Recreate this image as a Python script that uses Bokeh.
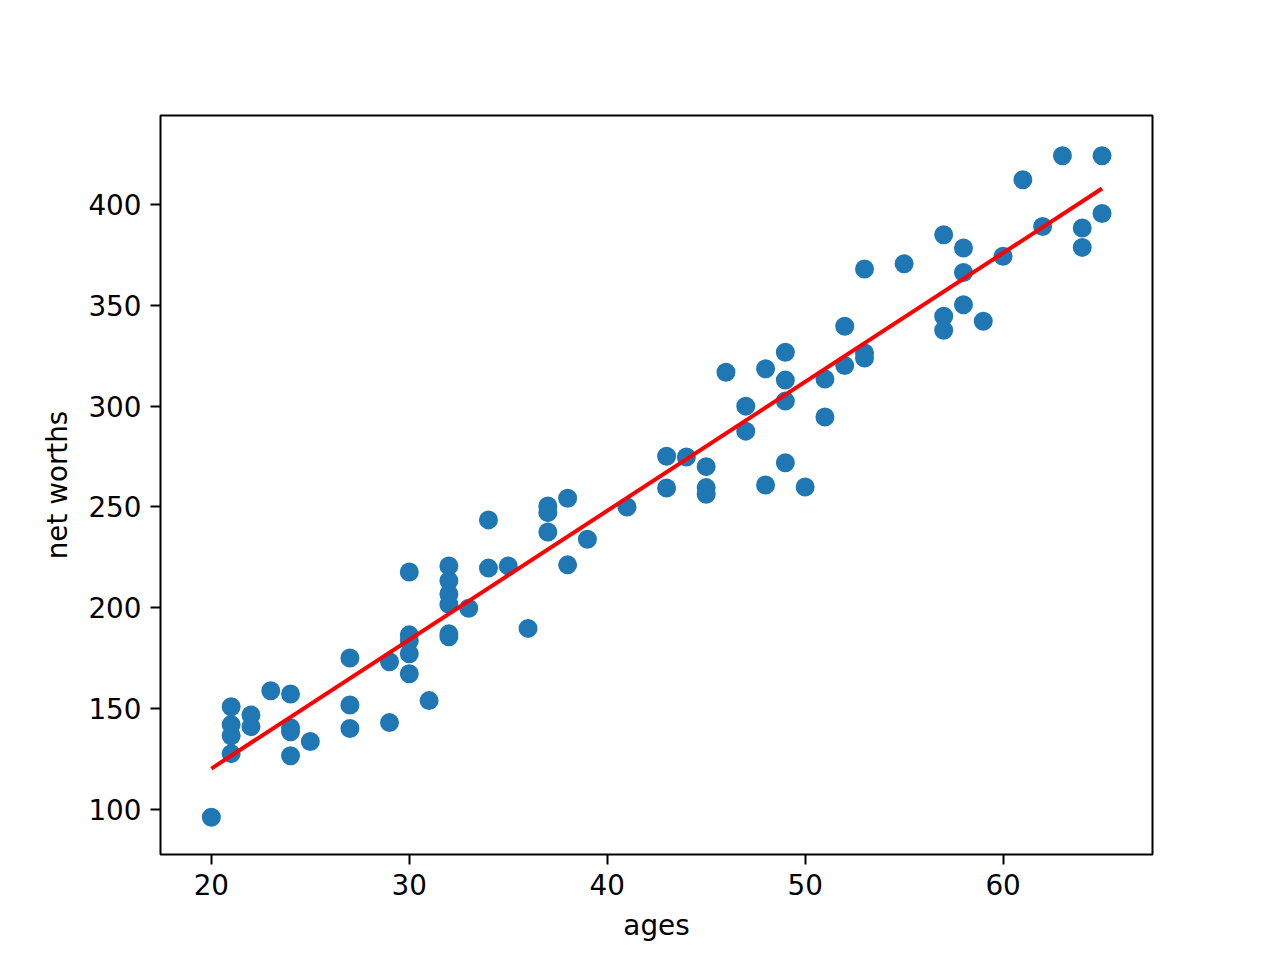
from bokeh.plotting import figure
from bokeh.models import FixedTicker, Range1d
from bokeh.embed import file_html
from bokeh.resources import INLINE

ages = [20,
        21, 21, 21, 21,
        22, 22,
        23,
        24, 24, 24, 24,
        25,
        27, 27, 27,
        29, 29,
        30, 30, 30, 30, 30,
        31,
        32, 32, 32, 32, 32, 32,
        33,
        34, 34,
        35,
        36,
        37, 37, 37,
        38, 38,
        39,
        41,
        43, 43,
        44,
        45, 45, 45,
        46,
        47, 47,
        48, 48,
        49, 49, 49, 49,
        50,
        51, 51,
        52, 52,
        53, 53, 53,
        55,
        57, 57, 57,
        58, 58, 58,
        59,
        60,
        61,
        62,
        63,
        64, 64,
        65, 65]

net_worths = [96.2,
              151.0, 142.1, 136.6, 127.7,
              146.9, 141.1,
              158.9,
              157.3, 140.6, 138.6, 126.7,
              133.7,
              175.1, 151.8, 140.2,
              173.3, 143.1,
              217.8, 186.6, 183.7, 177.2, 167.3,
              154.0,
              220.8, 213.4, 206.9, 201.7, 187.1, 185.6,
              199.8,
              243.6, 219.7,
              220.8,
              189.8,
              250.5, 247.2, 237.6,
              254.3, 221.3,
              234.0,
              250.0,
              275.2, 259.4,
              274.8,
              270.0, 259.6, 256.3,
              316.8,
              300.0, 287.6,
              318.5, 260.9,
              326.7, 312.9, 302.5, 271.9,
              259.9,
              313.5, 294.6,
              339.6, 320.1,
              368.0, 326.4, 323.9,
              370.6,
              385.0, 344.6, 337.6,
              378.4, 366.3, 350.3,
              342.1,
              374.3,
              412.2,
              389.1,
              424.1,
              388.3, 378.7,
              424.1, 395.5]

fit_ages = [20, 65]
fit_net_worths = [120.3, 407.9]

x_ticks = [20, 30, 40, 50, 60]
y_ticks = [100, 150, 200, 250, 300, 350, 400]

FONT = "DejaVu Sans"
FS = "27.8px"

p = figure(frame_width=992, frame_height=739,
           min_border_left=160, min_border_right=128,
           min_border_top=115, min_border_bottom=106,
           x_range=Range1d(17.43, 67.55), y_range=Range1d(77.7, 444.1),
           output_backend="svg", toolbar_location=None,
           background_fill_color="white", border_fill_color="white")

p.scatter(ages, net_worths, size=17, fill_color="#1f77b4",
          line_color="#1f77b4", line_width=2)
p.line(fit_ages, fit_net_worths, line_color="#ff0000", line_width=4)

p.xgrid.visible = False
p.ygrid.visible = False
p.outline_line_color = "black"
p.outline_line_width = 2
p.outline_line_alpha = 1

p.xaxis.ticker = FixedTicker(ticks=x_ticks)
p.yaxis.ticker = FixedTicker(ticks=y_ticks)
p.xaxis.axis_label = "ages"
p.yaxis.axis_label = "net worths"

for ax in (p.xaxis, p.yaxis):
    ax.axis_line_color = None
    ax.major_tick_line_color = "black"
    ax.major_tick_line_width = 2
    ax.major_tick_out = 10
    ax.major_tick_in = 0
    ax.minor_tick_line_color = None
    ax.major_label_text_font = FONT
    ax.major_label_text_font_size = FS
    ax.major_label_text_color = "black"
    ax.axis_label_text_font = FONT
    ax.axis_label_text_font_size = FS
    ax.axis_label_text_font_style = "normal"
    ax.axis_label_text_color = "black"
    ax.major_label_standoff = 9
    ax.axis_label_standoff = 11

open("out.html", "w").write(file_html(p, INLINE))
